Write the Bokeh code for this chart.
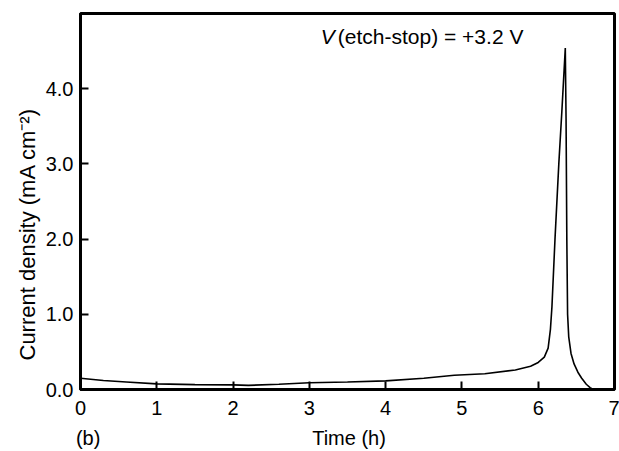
from bokeh.plotting import figure
from bokeh.models import (Range1d, Label, FixedTicker, NumeralTickFormatter,
                          LinearAxis, Title)
from bokeh.embed import file_html
from bokeh.resources import INLINE

# Data (time in hours, current density in mA cm^-2)
time_h = [0.0, 0.3, 0.6, 1.0, 1.5, 2.0, 2.2, 2.6, 3.0, 3.5, 4.0, 4.5, 4.9, 5.3,
          5.7, 5.9, 6.0, 6.08, 6.13, 6.16, 6.18, 6.22, 6.27, 6.31, 6.355,
          6.365, 6.375, 6.385, 6.40, 6.43, 6.47, 6.52, 6.57, 6.63, 6.68, 6.72, 7.0]
current = [0.15, 0.12, 0.10, 0.075, 0.065, 0.062, 0.055, 0.07, 0.09, 0.10, 0.115,
           0.15, 0.19, 0.21, 0.26, 0.31, 0.36, 0.43, 0.55, 0.80, 1.10, 2.00, 3.00,
           3.70, 4.54, 3.60, 2.00, 1.00, 0.70, 0.48, 0.34, 0.23, 0.15, 0.07, 0.025,
           0.0, 0.0]

x_ticks = [0, 1, 2, 3, 4, 5, 6, 7]
y_ticks = [0.0, 1.0, 2.0, 3.0, 4.0]

x_title = "Time (h)"
y_title = "Current density (mA cm\u207b\u00b2)"
panel_tag = "(b)"

FONT = "Liberation Sans"

p = figure(width=619, height=451, output_backend="svg", toolbar_location=None,
           x_range=Range1d(0, 7), y_range=Range1d(0, 5),
           min_border_left=80, min_border_right=5, min_border_top=13,
           min_border_bottom=59)
p.background_fill_color = "white"
p.border_fill_color = "white"
p.outline_line_color = "black"
p.outline_line_width = 3
p.grid.visible = False

for ax in (p.xaxis[0], p.yaxis[0]):
    ax.axis_line_color = "black"
    ax.axis_line_width = 3
    ax.major_tick_in = 8
    ax.major_tick_out = 0
    ax.major_tick_line_width = 2
    ax.major_tick_line_color = "black"
    ax.minor_tick_line_color = None
    ax.major_label_text_font = FONT
    ax.major_label_text_font_size = "20px"
    ax.major_label_text_color = "black"

p.xaxis.ticker = FixedTicker(ticks=x_ticks)
p.yaxis.ticker = FixedTicker(ticks=y_ticks)
p.yaxis.formatter = NumeralTickFormatter(format="0.0")
p.xaxis.major_label_standoff = 11
p.yaxis.major_label_standoff = 7

# second row under the x axis: panel tag "(b)" and the axis title, in one line
row_axis = LinearAxis(ticker=FixedTicker(ticks=[0.1, 3.52]),
                      major_label_overrides={0.1: panel_tag, 3.52: x_title})
row_axis.axis_line_color = None
row_axis.major_tick_line_color = None
row_axis.minor_tick_line_color = None
row_axis.major_label_standoff = 3
row_axis.major_label_text_font = FONT
row_axis.major_label_text_font_size = "20px"
row_axis.major_label_text_color = "black"
p.add_layout(row_axis, "below")

# y axis title, placed along the axis as in the reference
p.add_layout(Title(text=y_title, align="left", offset=29, standoff=6,
                   text_font=FONT, text_font_size="22px",
                   text_font_style="normal", text_color="black"), "left")

p.line(time_h, current, line_color="black", line_width=1.6)

p.add_layout(Label(x=3.15, y=4.70, text="V", text_align="left",
                   text_baseline="middle", text_font=FONT,
                   text_font_style="italic",
                   text_font_size="21px", text_color="black"))
p.add_layout(Label(x=3.15, y=4.70, x_offset=17, text="(etch-stop) = +3.2 V",
                   text_align="left", text_baseline="middle", text_font=FONT,
                   text_font_size="21px", text_color="black"))

open("out.html", "w").write(file_html(p, INLINE))
